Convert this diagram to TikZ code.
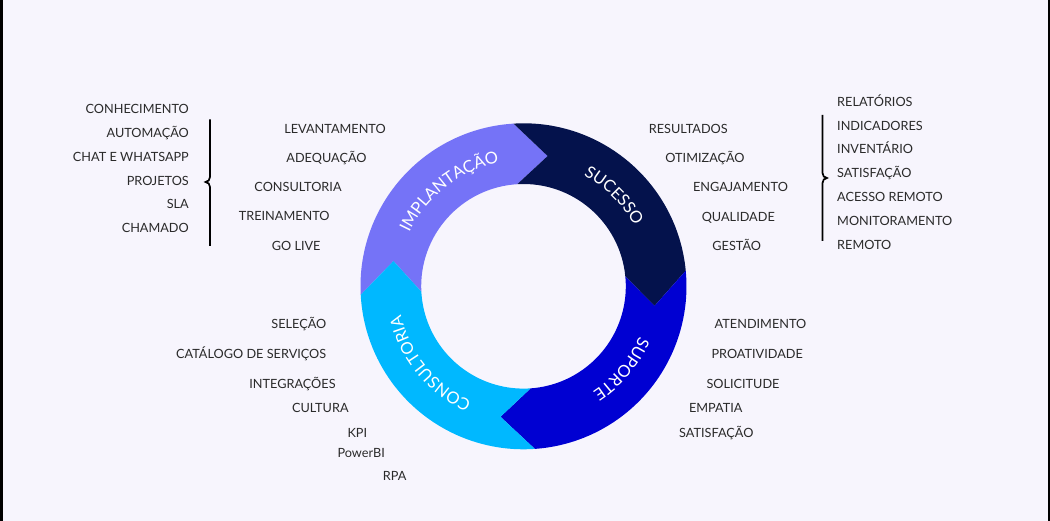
\documentclass[tikz,border=0pt]{standalone}
\usepackage{fontspec}
\setmainfont{Lato}
\usetikzlibrary{decorations.text}

\definecolor{bgpage}{HTML}{F7F5FD}
\definecolor{implcol}{HTML}{7573F7}
\definecolor{succcol}{HTML}{04124C}
\definecolor{supcol}{HTML}{0000D2}
\definecolor{conscol}{HTML}{00B8FF}
\definecolor{itemgray}{HTML}{2A2A2A}
\newcommand{\itemfont}{\fontsize{12.7}{14}\selectfont}
\newcommand{\ringfont}{\fontsize{16.5}{18}\selectfont}

\begin{document}
\begin{tikzpicture}
	 [x=1pt,y=1pt,every node/.style={inner sep=0pt,font=\itemfont,text=itemgray},
	  bracketline/.style={line width=1.7pt,black},
	  ringtext/.style={decorate,decoration={text along path,text align=center,text color=white}}]
	\useasboundingbox (0,0) rectangle (1050,-521);
	\fill[bgpage] (0,0) rectangle (1050,-521);
	\fill[black] (0,0) rectangle (3,-521);
	\fill[black] (1048,0) rectangle (1050,-521);

	% ring
	\coordinate (ctr) at (523.5,-286.3);
	\foreach \from/\to/\col in {183/93.5/implcol,93.5/5.5/succcol,5.5/-86/supcol,-86/-177/conscol}
	  \fill[\col,shift={(ctr)}] (\from:163) arc[start angle=\from,end angle=\to,radius=163]
	    -- ({\to-14}:132.5) -- (\to:102.3) arc[start angle=\to,end angle=\from,radius=102.3]
	    -- ({\from-14}:132.5) -- cycle;

	\path[ringtext,shift={(ctr)},decoration={text={|\ringfont|IMPLANTAÇÃO}}] (188:126) arc[start angle=188,end angle=68,radius=126];
	\path[ringtext,shift={(ctr)},decoration={text={|\ringfont|SUCESSO}}] (105:126) arc[start angle=105,end angle=-15,radius=126];
	\path[ringtext,shift={(ctr)},decoration={text={|\ringfont|SUPORTE}}] (20:126) arc[start angle=20,end angle=-100,radius=126];
	\path[ringtext,shift={(ctr)},decoration={text={|\ringfont|CONSULTORIA}}] (-80.5:126) arc[start angle=-80.5,end angle=-200.5,radius=126];

	% left list
	\node[anchor=base east] (conhec) at (189,-113.5) {CONHECIMENTO};
	\node[anchor=base east] (autom) at (189,-137.3) {AUTOMAÇÃO};
	\node[anchor=base east] (chat) at (189,-161.2) {CHAT E WHATSAPP};
	\node[anchor=base east] (projetos) at (189,-185.1) {PROJETOS};
	\node[anchor=base east] (sla) at (189,-208.9) {SLA};
	\node[anchor=base east] (chamado) at (189,-232.8) {CHAMADO};

	\coordinate (lbtop) at (210,-119.5);
	\coordinate (lbbot) at (210,-246);
	\coordinate (lbtip) at (205.5,-182);
	\draw[bracketline] (lbtop) -- (210,-177) to[out=-90,in=0] (lbtip) to[out=0,in=90] (210,-187) -- (lbbot);

	% implantacao
	\node[anchor=base] (levant) at (335,-133.7) {LEVANTAMENTO};
	\node[anchor=base] (adeq) at (326.5,-162.7) {ADEQUAÇÃO};
	\node[anchor=base] (consult) at (298,-192) {CONSULTORIA};
	\node[anchor=base] (trein) at (284.2,-221) {TREINAMENTO};
	\node[anchor=base] (golive) at (296.2,-250.4) {GO LIVE};

	% sucesso
	\node[anchor=base] (result) at (688.3,-133.7) {RESULTADOS};
	\node[anchor=base] (otim) at (705,-162.7) {OTIMIZAÇÃO};
	\node[anchor=base] (engaj) at (740.5,-192) {ENGAJAMENTO};
	\node[anchor=base] (qualid) at (738.3,-222) {QUALIDADE};
	\node[anchor=base] (gestao) at (736.7,-250.7) {GESTÃO};

	% right list
	\node[anchor=base west] (relat) at (837,-106.4) {RELATÓRIOS};
	\node[anchor=base west] (indic) at (837,-130.1) {INDICADORES};
	\node[anchor=base west] (invent) at (837,-153.5) {INVENTÁRIO};
	\node[anchor=base west] (satisf) at (837,-177.7) {SATISFAÇÃO};
	\node[anchor=base west] (acesso) at (837,-202) {ACESSO REMOTO};
	\node[anchor=base west] (monit) at (837,-225.4) {MONITORAMENTO};
	\node[anchor=base west] (remoto) at (837,-249.4) {REMOTO};

	\coordinate (rbtop) at (822.5,-115);
	\coordinate (rbbot) at (822.5,-241);
	\coordinate (rbtip) at (827,-178);
	\draw[bracketline] (rbtop) -- (822.5,-173) to[out=-90,in=180] (rbtip) to[out=180,in=90] (822.5,-183) -- (rbbot);

	% consultoria
	\node[anchor=base] (selec) at (298.8,-328.7) {SELEÇÃO};
	\node[anchor=base] (catal) at (251.2,-358.7) {CATÁLOGO DE SERVIÇOS};
	\node[anchor=base] (integr) at (292.5,-388.4) {INTEGRAÇÕES};
	\node[anchor=base] (cultura) at (320.3,-412.7) {CULTURA};
	\node[anchor=base] (kpi) at (357.3,-437) {KPI};
	\node[anchor=base] (powerbi) at (361.2,-457) {PowerBI};
	\node[anchor=base] (rpa) at (394.7,-480) {RPA};

	% suporte
	\node[anchor=base] (atend) at (760.5,-328.7) {ATENDIMENTO};
	\node[anchor=base] (proat) at (757.2,-358.7) {PROATIVIDADE};
	\node[anchor=base] (solic) at (743,-388.4) {SOLICITUDE};
	\node[anchor=base] (empatia) at (715.8,-412.7) {EMPATIA};
	\node[anchor=base] (satisf2) at (716.3,-437) {SATISFAÇÃO};

\end{tikzpicture}
\end{document}
